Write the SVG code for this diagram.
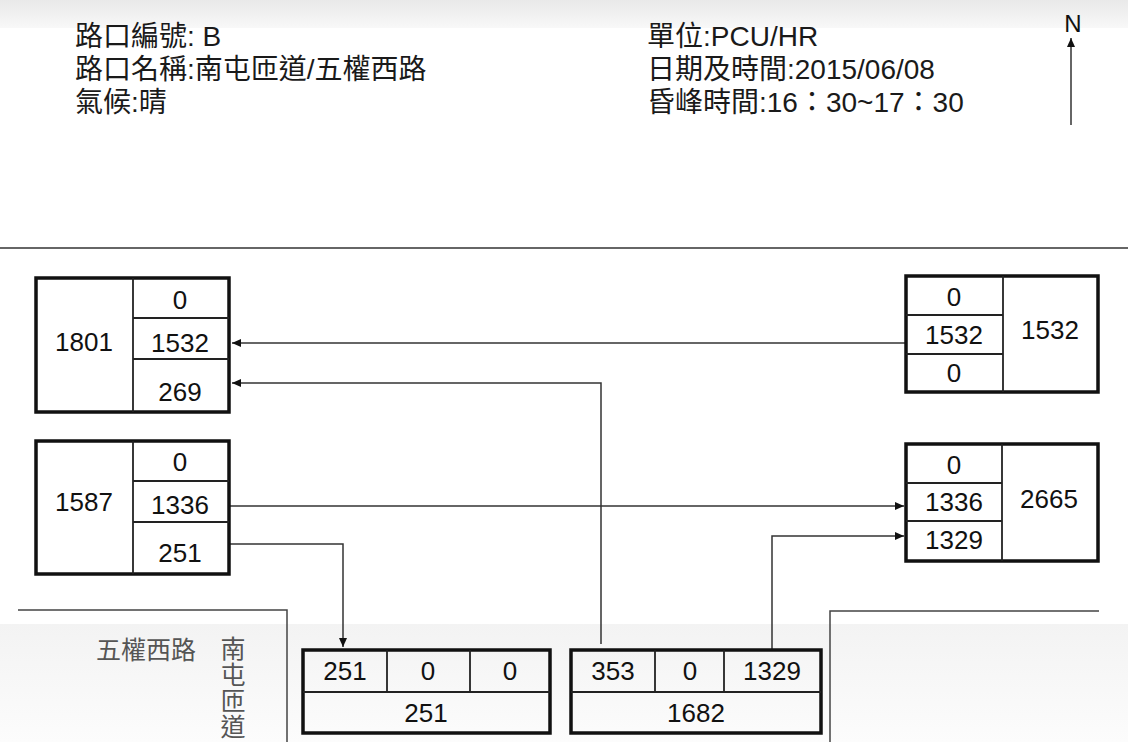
<svg xmlns="http://www.w3.org/2000/svg" width="1128" height="742" viewBox="0 0 1128 742">
<defs>
<linearGradient id="topband" x1="0" y1="0" x2="0" y2="1">
<stop offset="0" stop-color="#e9e9e9"/>
<stop offset="1" stop-color="#f8f8f8"/>
</linearGradient>
<linearGradient id="botband" x1="0" y1="0" x2="0" y2="1">
<stop offset="0" stop-color="#f3f3f3"/>
<stop offset="1" stop-color="#fcfcfc"/>
</linearGradient>
<marker id="ah" markerUnits="userSpaceOnUse" markerWidth="9" markerHeight="8" refX="9" refY="4" orient="auto">
<path d="M0,0 L9,4 L0,8 z" fill="#111"/>
</marker>
<style>
.hdr{font-family:"Liberation Sans","Noto Sans CJK TC",sans-serif;font-size:28px;fill:#1a1a1a}
.num{font-family:"Liberation Sans",Arial,sans-serif;font-size:26px;fill:#111;text-anchor:middle}
.box{fill:none;stroke:#111;stroke-width:3.5}
.cell{fill:none;stroke:#222;stroke-width:1.8}
.conn{fill:none;stroke:#333;stroke-width:1.5}
.road{fill:none;stroke:#444;stroke-width:1.5}
.rlab{font-family:"Noto Sans CJK TC","Noto Sans CJK SC",sans-serif;font-size:25px;fill:#555}
</style>
</defs>
<rect x="0" y="0" width="1128" height="742" fill="#ffffff"/>
<rect x="0" y="0" width="1128" height="28" fill="url(#topband)"/>
<rect x="0" y="624" width="1128" height="118" fill="url(#botband)"/>

<g id="header">
<text class="hdr" x="75" y="46">路口編號: B</text>
<text class="hdr" x="75" y="79">路口名稱:南屯匝道/五權西路</text>
<text class="hdr" x="75" y="112">氣候:晴</text>
<text class="hdr" x="647" y="46">單位:PCU/HR</text>
<text class="hdr" x="647" y="79">日期及時間:2015/06/08</text>
<text class="hdr" x="647" y="112">昏峰時間:16：30~17：30</text>
</g>

<g id="north">
<text x="1073" y="32" text-anchor="middle" style="font-family:'Liberation Sans',Arial,sans-serif;font-size:24px;fill:#111">N</text>
<line class="conn" x1="1071" y1="125" x2="1071" y2="38" marker-end="url(#ah)"/>
</g>

<g id="dividers">
<line x1="0" y1="248" x2="1128" y2="248" stroke="#333" stroke-width="1.5"/>
<path class="road" d="M18,610 L287,610 L287,742"/>
<path class="road" d="M830,742 L830,611 L1099,611"/>
</g>

<g id="road-labels">
<text class="rlab" x="96" y="659">五權西路</text>
<text class="rlab" x="233" y="636" style="writing-mode:vertical-rl" letter-spacing="1">南屯匝道</text>
</g>

<g id="connectors">
<line class="conn" x1="906" y1="343" x2="232" y2="343" marker-end="url(#ah)"/>
<path class="conn" d="M601,644 L601,383 L232,383" marker-end="url(#ah)"/>
<line class="conn" x1="230" y1="506" x2="904" y2="506" marker-end="url(#ah)"/>
<path class="conn" d="M230,544 L343,544 L343,647" marker-end="url(#ah)"/>
<path class="conn" d="M772,650 L772,536 L904,536" marker-end="url(#ah)"/>
</g>

<g id="node-west-north">
<rect class="box" x="36" y="278" width="193" height="134"/>
<line class="cell" x1="133" y1="278" x2="133" y2="412"/>
<line class="cell" x1="133" y1="318" x2="229" y2="318"/>
<line class="cell" x1="133" y1="359" x2="229" y2="359"/>
<text class="num" x="84" y="351">1801</text>
<text class="num" x="180" y="309">0</text>
<text class="num" x="180" y="352">1532</text>
<text class="num" x="180" y="401">269</text>
</g>

<g id="node-west-south">
<rect class="box" x="36" y="441" width="193" height="133"/>
<line class="cell" x1="133" y1="441" x2="133" y2="574"/>
<line class="cell" x1="133" y1="481" x2="229" y2="481"/>
<line class="cell" x1="133" y1="522" x2="229" y2="522"/>
<text class="num" x="84" y="511">1587</text>
<text class="num" x="180" y="471">0</text>
<text class="num" x="180" y="514">1336</text>
<text class="num" x="180" y="562">251</text>
</g>

<g id="node-east-north">
<rect class="box" x="906" y="276" width="192" height="116"/>
<line class="cell" x1="1003" y1="276" x2="1003" y2="392"/>
<line class="cell" x1="906" y1="315" x2="1003" y2="315"/>
<line class="cell" x1="906" y1="354" x2="1003" y2="354"/>
<text class="num" x="954" y="306">0</text>
<text class="num" x="954" y="344">1532</text>
<text class="num" x="954" y="382">0</text>
<text class="num" x="1050" y="339">1532</text>
</g>

<g id="node-east-south">
<rect class="box" x="906" y="444" width="192" height="117"/>
<line class="cell" x1="1002" y1="444" x2="1002" y2="561"/>
<line class="cell" x1="906" y1="483" x2="1002" y2="483"/>
<line class="cell" x1="906" y1="521" x2="1002" y2="521"/>
<text class="num" x="954" y="474">0</text>
<text class="num" x="954" y="511">1336</text>
<text class="num" x="954" y="549">1329</text>
<text class="num" x="1049" y="508">2665</text>
</g>

<g id="node-south-in">
<rect class="box" x="303" y="650" width="247" height="83"/>
<line class="cell" x1="303" y1="692" x2="550" y2="692"/>
<line class="cell" x1="387" y1="650" x2="387" y2="692"/>
<line class="cell" x1="470" y1="650" x2="470" y2="692"/>
<text class="num" x="345" y="680">251</text>
<text class="num" x="428" y="680">0</text>
<text class="num" x="510" y="680">0</text>
<text class="num" x="426" y="722">251</text>
</g>

<g id="node-south-out">
<rect class="box" x="571" y="650" width="250" height="83"/>
<line class="cell" x1="571" y1="692" x2="821" y2="692"/>
<line class="cell" x1="655" y1="650" x2="655" y2="692"/>
<line class="cell" x1="724" y1="650" x2="724" y2="692"/>
<text class="num" x="613" y="680">353</text>
<text class="num" x="690" y="680">0</text>
<text class="num" x="772" y="680">1329</text>
<text class="num" x="696" y="722">1682</text>
</g>
</svg>
